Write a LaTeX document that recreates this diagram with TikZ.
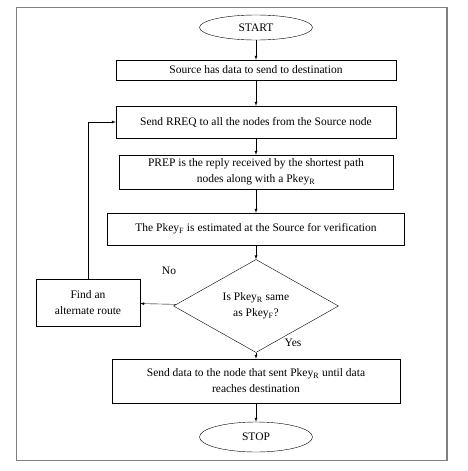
\documentclass[tikz,border=0pt]{standalone}
\usepackage{fontspec}
\setmainfont{Liberation Serif}
\usetikzlibrary{shapes.geometric}
\usetikzlibrary{positioning}

\tikzset{
	box/.style={draw, rectangle, inner sep=1pt, align=center},
	term/.style={draw, ellipse, inner sep=0pt},
	check/.style={draw, diamond, inner sep=0pt, align=center},
	flow/.style={-latex, thin},
}

\begin{document}
\begin{tikzpicture}[x=1pt, y=-1pt, font=\fontsize{11.5}{16}\selectfont]
	\useasboundingbox (0,0) rectangle (468,471);
	\draw[gray, line width=1.2pt] (16.5,7.5) rectangle (447,460.5);
	\node[term, minimum width=113pt, minimum height=25pt] (start) at (256, 27.5) {START};
	\node[box, minimum width=280pt, minimum height=20pt] (src) at (256, 70) {Source has data to send to destination};
	\node[box, minimum width=280pt, minimum height=32pt] (rreq) at (256, 122) {Send RREQ to all the nodes from the Source node};
	\node[box, minimum width=274pt, minimum height=34pt] (prep) at (256, 172) {PREP is the reply received by the shortest path\\nodes along with a Pkey\textsubscript{R}};
	\node[box, minimum width=297pt, minimum height=32pt] (est) at (256, 229) {The Pkey\textsubscript{F} is estimated at the Source for verification};
	\node[check, minimum width=165pt, minimum height=86pt] (dec) at (256, 306) {Is Pkey\textsubscript{R} same\\as Pkey\textsubscript{F}?};
	\node[box, minimum width=104pt, minimum height=47pt] (alt) at (88, 302.5) {Find an\\alternate route};
	\node[box, minimum width=288pt, minimum height=44pt] (send) at (256, 381) {Send data to the node that sent Pkey\textsubscript{R} until data\\reaches destination};
	\node[term, minimum width=113pt, minimum height=30pt] (stop) at (256, 437) {STOP};
	\node (no) at (169, 271) {No};
	\node (yes) at (293, 343) {Yes};
	\draw[flow] (start)--(src);
	\draw[flow] (src)--(rreq);
	\draw[flow] (rreq)--(prep);
	\draw[flow] (prep)--(est);
	\draw[flow] (est)--(dec);
	\draw[flow] (dec)--(alt);
	\draw[flow] (dec)--(send);
	\draw[flow] (send)--(stop);
	\draw[flow] (alt.north) |- (rreq.west);
\end{tikzpicture}
\end{document}
